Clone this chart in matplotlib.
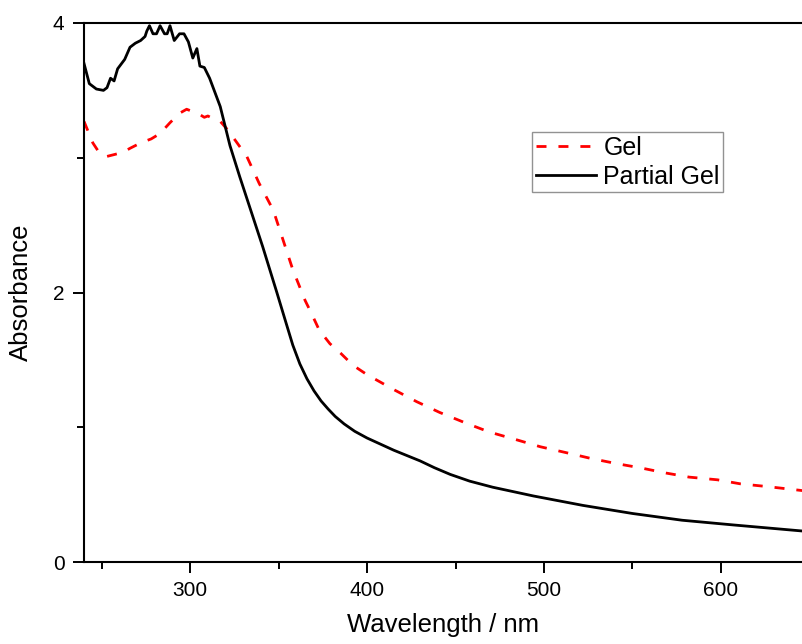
import matplotlib
matplotlib.use("Agg")
import matplotlib.pyplot as plt
from matplotlib.ticker import MultipleLocator

plt.rcParams['font.family'] = ['Liberation Sans', 'DejaVu Sans']

partial_x = [240, 243, 247, 251, 253, 255, 257, 259, 263, 266, 269, 272, 274.5, 275.5, 277, 279, 281, 283,
             285.5, 287, 288.6, 291, 294, 296.5, 299, 301.5, 303.8, 305.5, 308, 311, 317, 322.5, 328, 332,
             341, 349, 353.6, 358, 362, 366, 370, 374, 378, 382, 387, 393, 400, 415, 430, 438, 447, 458, 471,
             494, 522, 550, 578, 607, 646]
partial_y = [3.70, 3.55, 3.51, 3.50, 3.52, 3.59, 3.57, 3.66, 3.73, 3.82, 3.85, 3.87, 3.90, 3.94, 3.98, 3.92, 3.92, 3.98,
             3.92, 3.92, 3.98, 3.87, 3.92, 3.92, 3.86, 3.74, 3.81, 3.68, 3.67, 3.59, 3.38, 3.09, 2.86, 2.70,
             2.34, 2.00, 1.80, 1.61, 1.47, 1.36, 1.27, 1.195, 1.135, 1.08, 1.025, 0.97, 0.92, 0.83, 0.75, 0.70, 0.65, 0.60, 0.555,
             0.49, 0.42, 0.36, 0.31, 0.275, 0.23]

gel_x = [240, 245, 249, 253, 256, 262, 266, 272, 278, 283, 288.6, 294, 298, 302, 305.5, 308, 310, 313, 317,
         321, 326, 332, 339, 347, 352, 358, 365, 368, 373, 379, 385, 392, 400, 415, 428, 441, 456, 469, 485, 498, 513, 526,
         541, 554, 569, 582, 598, 611, 626, 646]
gel_y = [3.27, 3.11, 3.03, 3.01, 3.02, 3.04, 3.07, 3.11, 3.14, 3.18, 3.26, 3.33, 3.36, 3.34, 3.32, 3.30, 3.31, 3.29, 3.27,
         3.21, 3.12, 3.01, 2.81, 2.61, 2.41, 2.17, 1.94, 1.86, 1.72, 1.62, 1.55, 1.46, 1.39, 1.28, 1.19, 1.11, 1.03, 0.965, 0.905, 0.855, 0.81, 0.77,
         0.73, 0.70, 0.66, 0.63, 0.61, 0.58, 0.56, 0.53]

x_ticks = [300, 400, 500, 600]
y_ticks = [0, 2, 4]

fig = plt.figure(figsize=(8.02, 6.44), dpi=100)
ax = fig.add_axes([84/802, (644-562)/644, (802-84)/802, (562-23)/644])

ax.plot(gel_x, gel_y, color='#ff0000', lw=2.0, linestyle=(0, (3.6, 4.3)), label='Gel')
ax.plot(partial_x, partial_y, color='black', lw=2.0, label='Partial Gel')

ax.set_xlim(240, 645.8)
ax.set_ylim(0, 4)
ax.set_xticks(x_ticks)
ax.set_yticks(y_ticks)
ax.xaxis.set_minor_locator(MultipleLocator(50))
ax.yaxis.set_minor_locator(MultipleLocator(1))
ax.tick_params(which='major', direction='out', length=8, width=1.4, labelsize=15, pad=6)
ax.tick_params(which='minor', direction='out', length=5, width=1.4)
ax.spines['right'].set_visible(False)
for s in ['left', 'bottom', 'top']:
    ax.spines[s].set_linewidth(1.5)

ax.set_xlabel('Wavelength / nm', fontsize=18.5, labelpad=9)
ax.set_ylabel('Absorbance', fontsize=18.5, labelpad=14)

leg = ax.legend(loc='upper left', bbox_to_anchor=(0.624, 0.798), fontsize=18, frameon=True,
                fancybox=False, handlelength=2.4, handletextpad=0.3, borderpad=0.15,
                labelspacing=0.2, borderaxespad=0)
leg.get_frame().set_edgecolor('#777777')
leg.get_frame().set_linewidth(1.0)

fig.savefig('out.png', dpi=100)
